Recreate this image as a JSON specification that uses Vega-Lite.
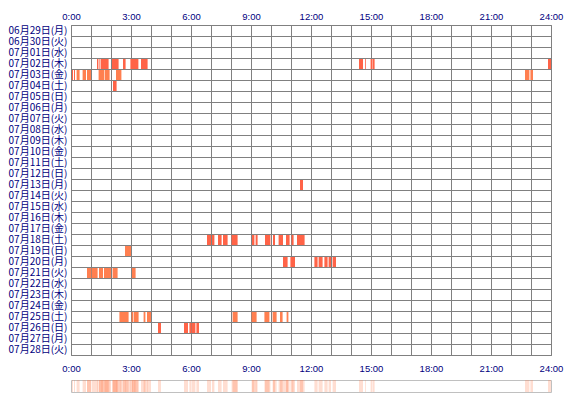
{
  "$schema": "https://vega.github.io/schema/vega-lite/v6.json",
  "padding": {"left": 5, "top": 5, "right": 15, "bottom": 5},
  "background": "white",
  "config": {
    "view": {"stroke": "#808080"},
    "font": "Noto Sans CJK JP",
    "concat": {"spacing": 6}
  },
  "datasets": {
    "s": [
      {"day": "07月02日(木)", "start": 1.30, "end": 1.35, "kind": "A"},
      {"day": "07月02日(木)", "start": 1.38, "end": 1.43, "kind": "A"},
      {"day": "07月02日(木)", "start": 1.48, "end": 1.88, "kind": "A"},
      {"day": "07月02日(木)", "start": 2.05, "end": 2.38, "kind": "A"},
      {"day": "07月02日(木)", "start": 2.60, "end": 2.73, "kind": "A"},
      {"day": "07月02日(木)", "start": 2.97, "end": 3.37, "kind": "A"},
      {"day": "07月02日(木)", "start": 3.50, "end": 3.83, "kind": "A"},
      {"day": "07月02日(木)", "start": 14.40, "end": 14.60, "kind": "A"},
      {"day": "07月02日(木)", "start": 14.70, "end": 14.74, "kind": "A"},
      {"day": "07月02日(木)", "start": 14.98, "end": 15.05, "kind": "A"},
      {"day": "07月02日(木)", "start": 15.07, "end": 15.18, "kind": "A"},
      {"day": "07月02日(木)", "start": 23.85, "end": 24.00, "kind": "A"},
      {"day": "07月03日(金)", "start": 0.05, "end": 0.10, "kind": "A"},
      {"day": "07月03日(金)", "start": 0.15, "end": 0.20, "kind": "A"},
      {"day": "07月03日(金)", "start": 0.28, "end": 0.43, "kind": "B"},
      {"day": "07月03日(金)", "start": 0.58, "end": 0.75, "kind": "B"},
      {"day": "07月03日(金)", "start": 0.80, "end": 1.00, "kind": "B"},
      {"day": "07月03日(金)", "start": 1.38, "end": 1.65, "kind": "B"},
      {"day": "07月03日(金)", "start": 1.68, "end": 1.93, "kind": "B"},
      {"day": "07月03日(金)", "start": 2.25, "end": 2.52, "kind": "B"},
      {"day": "07月03日(金)", "start": 22.70, "end": 22.92, "kind": "B"},
      {"day": "07月03日(金)", "start": 22.97, "end": 23.10, "kind": "B"},
      {"day": "07月04日(土)", "start": 2.10, "end": 2.28, "kind": "A"},
      {"day": "07月13日(月)", "start": 11.45, "end": 11.60, "kind": "A"},
      {"day": "07月18日(土)", "start": 6.80, "end": 7.00, "kind": "A"},
      {"day": "07月18日(土)", "start": 7.05, "end": 7.17, "kind": "A"},
      {"day": "07月18日(土)", "start": 7.35, "end": 7.53, "kind": "A"},
      {"day": "07月18日(土)", "start": 7.60, "end": 7.83, "kind": "A"},
      {"day": "07月18日(土)", "start": 8.03, "end": 8.33, "kind": "A"},
      {"day": "07月18日(土)", "start": 9.05, "end": 9.17, "kind": "A"},
      {"day": "07月18日(土)", "start": 9.23, "end": 9.33, "kind": "A"},
      {"day": "07月18日(土)", "start": 9.70, "end": 9.97, "kind": "A"},
      {"day": "07月18日(土)", "start": 10.10, "end": 10.20, "kind": "A"},
      {"day": "07月18日(土)", "start": 10.38, "end": 10.60, "kind": "A"},
      {"day": "07月18日(土)", "start": 10.75, "end": 10.93, "kind": "A"},
      {"day": "07月18日(土)", "start": 11.03, "end": 11.13, "kind": "A"},
      {"day": "07月18日(土)", "start": 11.30, "end": 11.68, "kind": "A"},
      {"day": "07月19日(日)", "start": 2.70, "end": 3.00, "kind": "B"},
      {"day": "07月20日(月)", "start": 10.60, "end": 10.83, "kind": "A"},
      {"day": "07月20日(月)", "start": 10.97, "end": 11.20, "kind": "A"},
      {"day": "07月20日(月)", "start": 12.17, "end": 12.33, "kind": "A"},
      {"day": "07月20日(月)", "start": 12.38, "end": 12.58, "kind": "A"},
      {"day": "07月20日(月)", "start": 12.67, "end": 12.83, "kind": "A"},
      {"day": "07月20日(月)", "start": 12.88, "end": 13.00, "kind": "A"},
      {"day": "07月20日(月)", "start": 13.08, "end": 13.25, "kind": "A"},
      {"day": "07月21日(火)", "start": 0.80, "end": 1.00, "kind": "B"},
      {"day": "07月21日(火)", "start": 1.03, "end": 1.33, "kind": "B"},
      {"day": "07月21日(火)", "start": 1.40, "end": 1.60, "kind": "B"},
      {"day": "07月21日(火)", "start": 1.65, "end": 2.00, "kind": "B"},
      {"day": "07月21日(火)", "start": 2.08, "end": 2.33, "kind": "B"},
      {"day": "07月21日(火)", "start": 3.05, "end": 3.23, "kind": "B"},
      {"day": "07月25日(土)", "start": 2.42, "end": 2.88, "kind": "B"},
      {"day": "07月25日(土)", "start": 3.03, "end": 3.12, "kind": "B"},
      {"day": "07月25日(土)", "start": 3.15, "end": 3.38, "kind": "B"},
      {"day": "07月25日(土)", "start": 3.63, "end": 3.72, "kind": "B"},
      {"day": "07月25日(土)", "start": 3.80, "end": 4.00, "kind": "B"},
      {"day": "07月25日(土)", "start": 8.08, "end": 8.33, "kind": "B"},
      {"day": "07月25日(土)", "start": 9.03, "end": 9.28, "kind": "B"},
      {"day": "07月25日(土)", "start": 9.67, "end": 9.92, "kind": "B"},
      {"day": "07月25日(土)", "start": 10.08, "end": 10.28, "kind": "B"},
      {"day": "07月25日(土)", "start": 10.45, "end": 10.58, "kind": "B"},
      {"day": "07月25日(土)", "start": 10.78, "end": 10.87, "kind": "B"},
      {"day": "07月26日(日)", "start": 4.35, "end": 4.50, "kind": "A"},
      {"day": "07月26日(日)", "start": 5.65, "end": 5.85, "kind": "A"},
      {"day": "07月26日(日)", "start": 5.92, "end": 6.03, "kind": "A"},
      {"day": "07月26日(日)", "start": 6.05, "end": 6.22, "kind": "A"},
      {"day": "07月26日(日)", "start": 6.27, "end": 6.40, "kind": "A"}
    ]
  },
  "vconcat": [
    {
      "width": 480,
      "height": 330,
      "data": {"name": "s"},
      "mark": {"type": "rect"},
      "encoding": {
        "x": {
          "field": "start",
          "type": "quantitative",
          "scale": {"domain": [0, 24], "nice": false, "zero": false},
          "axis": {
            "orient": "top",
            "title": null,
            "values": [0,1,2,3,4,5,6,7,8,9,10,11,12,13,14,15,16,17,18,19,20,21,22,23,24],
            "labelExpr": "datum.value % 3 === 0 ? datum.value + ':00' : ''",
            "ticks": false,
            "domain": false,
            "grid": true,
            "gridColor": "#808080",
            "gridOpacity": 1,
            "labelColor": "#000080",
            "labelFont": "Liberation Sans",
            "labelFontSize": 9.5,
            "labelPadding": 4,
            "labelFlush": false,
            "labelOverlap": false,
            "minExtent": 19,
            "maxExtent": 19
          }
        },
        "x2": {"field": "end"},
        "y": {
          "field": "day",
          "type": "ordinal",
          "scale": {
            "domain": ["06月29日(月)","06月30日(火)","07月01日(水)","07月02日(木)","07月03日(金)","07月04日(土)","07月05日(日)","07月06日(月)","07月07日(火)","07月08日(水)","07月09日(木)","07月10日(金)","07月11日(土)","07月12日(日)","07月13日(月)","07月14日(火)","07月15日(水)","07月16日(木)","07月17日(金)","07月18日(土)","07月19日(日)","07月20日(月)","07月21日(火)","07月22日(水)","07月23日(木)","07月24日(金)","07月25日(土)","07月26日(日)","07月27日(月)","07月28日(火)"],
            "paddingInner": 0,
            "paddingOuter": 0
          },
          "axis": {
            "title": null,
            "ticks": false,
            "domain": false,
            "grid": true,
            "tickBand": "extent",
            "gridColor": "#808080",
            "gridOpacity": 1,
            "labelColor": "#000080",
            "labelFontSize": 10,
            "labelPadding": 4,
            "minExtent": 65,
            "maxExtent": 65,
            "zindex": 1
          }
        },
        "color": {
          "field": "kind",
          "type": "nominal",
          "scale": {"domain": ["A", "B"], "range": ["#FF6347", "#FF7F50"]},
          "legend": null
        }
      }
    },
    {
      "width": 480,
      "height": 12,
      "view": {"stroke": "#C0C0C0"},
      "data": {"name": "s"},
      "mark": {"type": "rect", "color": "#FF7F50", "opacity": 0.26},
      "encoding": {
        "x": {
          "field": "start",
          "type": "quantitative",
          "scale": {"domain": [0, 24], "nice": false, "zero": false},
          "axis": {
            "orient": "top",
            "title": null,
            "values": [0,3,6,9,12,15,18,21,24],
            "labelExpr": "datum.value + ':00'",
            "ticks": false,
            "domain": false,
            "grid": false,
            "labelColor": "#000080",
            "labelFont": "Liberation Sans",
            "labelFontSize": 9.5,
            "labelPadding": 7,
            "labelFlush": false,
            "labelOverlap": false,
            "minExtent": 16,
            "maxExtent": 16
          }
        },
        "x2": {"field": "end"},
        "y": {
          "datum": "all",
          "type": "nominal",
          "scale": {"paddingInner": 0, "paddingOuter": 0},
          "axis": {
            "title": null,
            "labels": false,
            "ticks": false,
            "domain": false,
            "grid": false,
            "minExtent": 65,
            "maxExtent": 65
          }
        }
      }
    }
  ]
}
